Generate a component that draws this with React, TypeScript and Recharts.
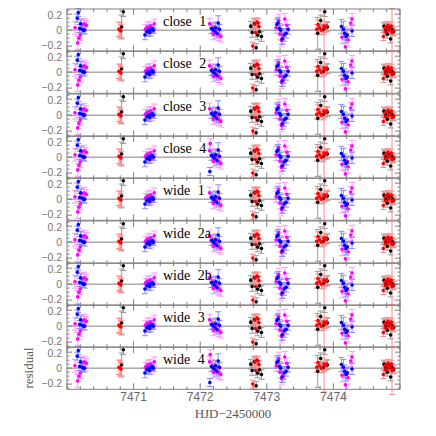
import React from 'react';
import { ScatterChart, Scatter, XAxis, YAxis, ReferenceLine, ErrorBar } from 'recharts';

// panel names, top to bottom
const panels = ['close 1', 'close 2', 'close 3', 'close 4', 'wide 1', 'wide 2a', 'wide 2b', 'wide 3', 'wide 4'];

// blue points (HJD-2450000, residual, error)
const blueT = [7470.155, 7470.17, 7470.19, 7470.205, 7470.225, 7470.245, 7470.265,
  7471.17, 7471.2, 7471.22, 7471.24, 7471.26, 7471.28, 7471.3,
  7472.17, 7472.19, 7472.21, 7472.23, 7472.25, 7472.27, 7472.29,
  7473.15, 7473.17, 7473.19, 7473.21, 7473.23, 7473.26, 7473.29, 7473.32,
  7474.12, 7474.15, 7474.17, 7474.19, 7474.21, 7474.28];
const blueR = [0.15, 0.22, 0.02, 0.08, 0.01, 0.0, 0.0,
  -0.06, -0.02, 0.0, -0.03, 0.01, 0.02, 0.0,
  0.02, 0.01, -0.01, 0.03, -0.04, 0.09, 0.01,
  0.07, 0.09, 0.02, 0.0, -0.11, -0.06, -0.04, 0.01,
  0.045, 0.01, -0.04, -0.08, -0.06, -0.01];
const blueE = [0.05, 0.05, 0.05, 0.05, 0.05, 0.04, 0.05,
  0.06, 0.05, 0.05, 0.05, 0.05, 0.05, 0.04,
  0.06, 0.05, 0.06, 0.07, 0.06, 0.09, 0.06,
  0.07, 0.07, 0.06, 0.06, 0.07, 0.08, 0.06, 0.06,
  0.09, 0.1, 0.08, 0.08, 0.07, 0.07];

// magenta points
const magT = [7470.12, 7470.16, 7470.18, 7470.2, 7470.22, 7470.26, 7470.29,
  7471.18, 7471.21, 7471.25, 7471.27, 7471.31,
  7472.14, 7472.18, 7472.2, 7472.24, 7472.26, 7472.28, 7472.31,
  7473.14, 7473.18, 7473.2, 7473.22, 7473.24, 7473.27, 7473.3,
  7474.13, 7474.18, 7474.22, 7474.26, 7474.28];
const magR = [0.03, -0.16, -0.1, -0.06, 0.07, 0.08, 0.06,
  0.01, 0.04, 0.05, -0.01, 0.08,
  0.08, 0.03, -0.05, -0.02, 0.02, -0.06, -0.08,
  0.03, 0.12, -0.05, -0.13, -0.1, 0.14, 0.06,
  -0.09, -0.21, -0.12, 0.09, 0.14];
const magE = [0.08, 0.08, 0.07, 0.07, 0.07, 0.07, 0.06,
  0.06, 0.06, 0.06, 0.06, 0.06,
  0.07, 0.07, 0.07, 0.06, 0.07, 0.07, 0.07,
  0.07, 0.08, 0.07, 0.08, 0.07, 0.07, 0.07,
  0.08, 0.15, 0.08, 0.07, 0.07];

// black points
const blackT = [7470.82, 7470.845,
  7472.76, 7472.78, 7472.81, 7472.84, 7472.86, 7472.89, 7472.92,
  7473.765, 7473.81, 7473.85, 7473.87, 7473.91,
  7474.76, 7474.79, 7474.81, 7474.84, 7474.86, 7474.88, 7474.9];
const blackR = [0.04, 0.23,
  0.05, -0.03, 0.08, -0.22, -0.06, -0.02, -0.08,
  -0.04, 0.12, 0.01, 0.23, 0.04,
  0.05, 0.0, -0.05, 0.03, -0.11, 0.01, -0.02];
const blackE = [0.15, 0.06,
  0.06, 0.06, 0.07, 0.05, 0.06, 0.06, 0.06,
  0.2, 0.07, 0.06, 0.06, 0.06,
  0.05, 0.05, 0.05, 0.05, 0.05, 0.05, 0.05];

// red points
const redT = [7470.78, 7470.8, 7470.81,
  7472.79, 7472.82, 7472.85, 7472.87, 7472.88, 7472.83,
  7473.75, 7473.77, 7473.79, 7473.82, 7473.86, 7473.87, 7473.9,
  7474.75, 7474.77, 7474.78, 7474.8, 7474.82, 7474.83, 7474.85, 7474.87, 7474.88, 7474.91];
const redR = [0.01, 0.0, -0.01,
  -0.2, 0.075, 0.1, 0.09, 0.045, -0.03,
  0.01, 0.07, 0.03, 0.0, 0.05, 0.03, 0.05,
  -0.08, 0.03, -0.02, 0.04, 0.06, 0.0, 0.01, 0.05, -0.03, -0.01];
const redE = [0.09, 0.1, 0.08,
  0.05, 0.06, 0.05, 0.06, 0.05, 0.06,
  0.06, 0.06, 0.05, 0.06, 0.35, 0.06, 0.06,
  0.05, 0.05, 0.05, 0.05, 0.05, 0.05, 0.05, 0.05, 0.3, 0.05];

// extra points seen only in some panels
const extraPanels = ['close 4', 'wide 4'];
const extraBlueT = [7472.145];
const extraBlueR = [-0.18];
const extraBlueE = [0.05];
const extraMagT = [7472.15];
const extraMagR = [0.17];
const extraMagE = [0.06];

const xTicks = [7470, 7470.2, 7470.4, 7470.6, 7470.8, 7471, 7471.2, 7471.4, 7471.6, 7471.8,
  7472, 7472.2, 7472.4, 7472.6, 7472.8, 7473, 7473.2, 7473.4, 7473.6, 7473.8,
  7474, 7474.2, 7474.4, 7474.6, 7474.8, 7475];
const yTicks = [-0.25, -0.2, -0.15, -0.1, -0.05, 0, 0.05, 0.1, 0.15, 0.2, 0.25];
const yLabels = [-0.2, 0, 0.2];

const AXIS = '#808080';
const TOP = 9;
const PH = 42.3;

const zip = (t: number[], r: number[], e: number[]) => t.map((v, i) => ({ t: v, r: r[i], e: e[i] }));

const isMajor = (v: number) => Math.abs(v - Math.round(v)) < 1e-6;

const Panel = ({ name, idx, last }: { name: string; idx: number; last: boolean }) => {
  const extra = extraPanels.includes(name);
  const series = [
    { key: 'mag', data: zip(magT.concat(extra ? extraMagT : []), magR.concat(extra ? extraMagR : []), magE.concat(extra ? extraMagE : [])), fill: '#ff00ff', bar: '#ff99ff' },
    { key: 'blue', data: zip(blueT.concat(extra ? extraBlueT : []), blueR.concat(extra ? extraBlueR : []), blueE.concat(extra ? extraBlueE : [])), fill: '#0000ff', bar: '#8c8cff' },
    { key: 'black', data: zip(blackT, blackR, blackE), fill: '#000000', bar: '#999999' },
    { key: 'red', data: zip(redT, redR, redE), fill: '#ff0000', bar: '#ff8c8c' },
  ];
  const bottom = last ? 30 : 0;
  return (
    <div style={{ position: 'absolute', left: 0, top: TOP + idx * PH - 1 }}>
      <ScatterChart width={436} height={PH + 2 + bottom} margin={{ top: 0, right: 35, bottom, left: 0 }}>
        <XAxis xAxisId="b" type="number" dataKey="t" domain={[7470, 7475]} allowDataOverflow ticks={xTicks} interval={0}
          height={1} tickSize={0} tickMargin={0} tickLine={false} axisLine={{ stroke: AXIS }}
          tick={(p: any) => {
            const v = p.payload.value;
            const m = isMajor(v);
            return (
              <g>
                <line x1={p.x} x2={p.x} y1={p.y} y2={p.y - (m ? 6 : 3)} stroke={AXIS} />
                {last && m && v > 7470 && v < 7475 && (
                  <text x={p.x} y={p.y + 11.5} textAnchor="middle" fontFamily="Liberation Sans" fontSize={12} fill="#666">{v}</text>
                )}
              </g>
            );
          }} />
        <XAxis xAxisId="t" orientation="top" type="number" dataKey="t" domain={[7470, 7475]} allowDataOverflow ticks={xTicks} interval={0}
          height={1} tickSize={0} tickMargin={0} tickLine={false} axisLine={{ stroke: AXIS }}
          tick={(p: any) => {
            const m = isMajor(p.payload.value);
            return <line x1={p.x} x2={p.x} y1={p.y} y2={p.y + (m ? 6 : 3)} stroke={AXIS} />;
          }} />
        <YAxis yAxisId="l" type="number" dataKey="r" domain={[-0.265, 0.265]} allowDataOverflow ticks={yTicks} interval={0}
          width={67} tickSize={0} tickMargin={0} tickLine={false} axisLine={{ stroke: AXIS }}
          tick={(p: any) => {
            const v = p.payload.value;
            const m = yLabels.some((l) => Math.abs(l - v) < 1e-6);
            const dy = v > 0.1 ? 4.5 : v < -0.1 ? 2.5 : 3.5;
            return (
              <g>
                <line x1={p.x} x2={p.x + (m ? 5 : 2.5)} y1={p.y} y2={p.y} stroke={AXIS} />
                {m && (
                  <text x={p.x - 5} y={p.y + dy} textAnchor="end" fontFamily="Liberation Sans" fontSize={10.5} fill="#777">
                    {v === 0 ? '0' : v < 0 ? '\u22120.2' : '0.2'}
                  </text>
                )}
              </g>
            );
          }} />
        <YAxis yAxisId="r" orientation="right" type="number" dataKey="r" domain={[-0.265, 0.265]} allowDataOverflow ticks={yTicks} interval={0}
          width={1} tickSize={0} tickMargin={0} tickLine={false} axisLine={{ stroke: AXIS }}
          tick={(p: any) => {
            const v = p.payload.value;
            const m = yLabels.some((l) => Math.abs(l - v) < 1e-6);
            return <line x1={p.x} x2={p.x - (m ? 5 : 2.5)} y1={p.y} y2={p.y} stroke={AXIS} />;
          }} />
        <ReferenceLine xAxisId="b" yAxisId="l" y={0} stroke={AXIS} strokeWidth={1} />
        {series.map((s) => (
          <Scatter key={s.key} data={s.data} xAxisId="b" yAxisId="l" isAnimationActive={false}
            shape={(p: any) => <circle cx={p.cx} cy={p.cy} r={1.8} fill={s.fill} />}>
            <ErrorBar dataKey="e" direction="y" width={3} stroke={s.bar} strokeWidth={1} isAnimationActive={false} />
          </Scatter>
        ))}
      </ScatterChart>
    </div>
  );
};

export default function App() {
  return (
    <div style={{ position: 'fixed', left: 0, top: 0, width: 436, height: 436, background: '#fff' }}>
      {panels.map((n, i) => (
        <Panel key={n} name={n} idx={i} last={i === panels.length - 1} />
      ))}
      <svg width={436} height={436} style={{ position: 'absolute', left: 0, top: 0, pointerEvents: 'none' }}>
        {panels.map((n, i) => (
          <text key={n} x={163} y={TOP + i * PH + 17} fontFamily="Liberation Serif" fontSize={14} fill="#000" wordSpacing={4}>{n}</text>
        ))}
        <text x={233} y={418} textAnchor="middle" fontFamily="Liberation Serif" fontSize={13} fill="#555">HJD{'\u2212'}2450000</text>
        <text transform="translate(33,368) rotate(-90)" textAnchor="middle" fontFamily="Liberation Serif" fontSize={13} fill="#555">residual</text>
      </svg>
    </div>
  );
}
